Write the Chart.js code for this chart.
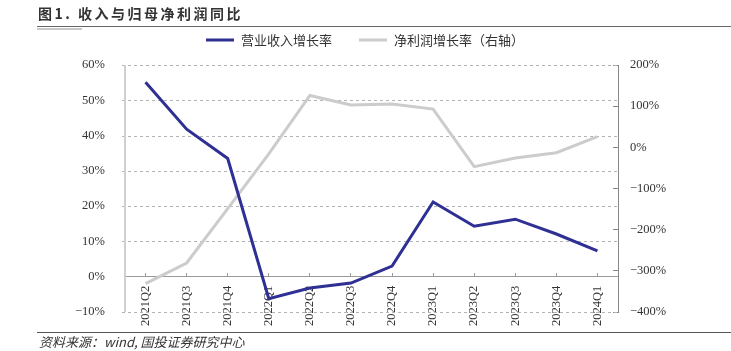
<!DOCTYPE html>
<html>
<head>
<meta charset="utf-8">
<script src="https://cdn.jsdelivr.net/npm/chart.js@4.4.1/dist/chart.umd.min.js"></script>
<style>
    html, body { margin: 0; padding: 0; background: #fff; }
    #wrap { width: 731px; height: 351px; }
</style>
</head>
<body>
<div id="wrap"><canvas id="grafico" width="731" height="351"></canvas></div>
<script>
    const quarters = ['2021Q2', '2021Q3', '2021Q4', '2022Q1', '2022Q2', '2022Q3',
        '2022Q4', '2023Q1', '2023Q2', '2023Q3', '2023Q4', '2024Q1'];
    const revenueGrowth = [55.1, 41.8, 33.5, -6.2, -3.2, -1.8, 3.0, 21.2, 14.3, 16.3, 12.1, 7.3];
    const profitGrowth = [-331, -281, -149, -16, 126, 103, 105, 93, -47, -26, -13, 26];
    const revenueLabel = '营业收入增长率';
    const profitLabel = '净利润增长率（右轴）';
    const titleText = '图1. 收入与归母净利润同比';
    const sourceText = '资料来源：wind, 国投证券研究中心';

    const cjk = '"Noto Sans CJK SC", "Noto Sans", sans-serif';
    const serif = '"Liberation Serif", "DejaVu Serif", serif';

    function pct(v) {
        return (v < 0 ? '\u2212' + Math.abs(v) : v) + '%';
    }

    const decoracao = {
        id: 'decoracao',
        beforeDatasetsDraw(chart) {
            // grade tracejada do eixo esquerdo
            const ctx = chart.ctx;
            const area = chart.chartArea;
            const escala = chart.scales.y;
            ctx.save();
            ctx.strokeStyle = '#b4b4b4';
            ctx.lineWidth = 1;
            ctx.setLineDash([3, 3]);
            escala.ticks.forEach(function (t) {
                if (t.value === 0) {
                    return;
                }
                const y = Math.round(escala.getPixelForValue(t.value)) + 0.5;
                ctx.beginPath();
                ctx.moveTo(area.left - 3, y);
                ctx.lineTo(area.right, y);
                ctx.stroke();
            });
            ctx.restore();
        },
        afterDraw(chart) {
            const ctx = chart.ctx;
            const area = chart.chartArea;
            ctx.save();

            // titulo
            ctx.fillStyle = '#333';
            ctx.font = 'bold 14px ' + cjk;
            ctx.letterSpacing = '2.5px';
            ctx.textBaseline = 'middle';
            ctx.textAlign = 'left';
            ctx.fillText(titleText, 38, 14);
            ctx.letterSpacing = '0px';

            ctx.strokeStyle = '#666';
            ctx.lineWidth = 1;
            ctx.beginPath();
            ctx.moveTo(37, 26.5);
            ctx.lineTo(731, 26.5);
            ctx.stroke();
            ctx.strokeStyle = '#c8c8c8';
            ctx.lineWidth = 2;
            ctx.beginPath();
            ctx.moveTo(37, 29);
            ctx.lineTo(82, 29);
            ctx.stroke();

            // legenda
            ctx.font = '13px ' + cjk;
            const itens = chart.data.datasets;
            const larguras = itens.map(d => 28 + 7 + ctx.measureText(d.label).width);
            const total = larguras.reduce((a, b) => a + b, 0) + 27 * (itens.length - 1);
            let x = 365 - total / 2;
            itens.forEach(function (d, i) {
                ctx.strokeStyle = d.borderColor;
                ctx.lineWidth = 3;
                ctx.beginPath();
                ctx.moveTo(x, 40);
                ctx.lineTo(x + 28, 40);
                ctx.stroke();
                ctx.fillStyle = '#333';
                ctx.fillText(d.label, x + 35, 40);
                x += larguras[i] + 27;
            });

            // eixo esquerdo
            ctx.strokeStyle = '#d0d0d0';
            ctx.lineWidth = 2;
            ctx.beginPath();
            ctx.moveTo(area.left, area.top);
            ctx.lineTo(area.left, area.bottom);
            ctx.stroke();

            // rodape
            ctx.strokeStyle = '#555';
            ctx.lineWidth = 1;
            ctx.beginPath();
            ctx.moveTo(37, 332.5);
            ctx.lineTo(731, 332.5);
            ctx.stroke();
            ctx.fillStyle = '#333';
            ctx.font = 'italic 13px ' + cjk;
            ctx.fillText(sourceText, 39, 342);

            ctx.restore();
        }
    };

    new Chart(document.getElementById('grafico'), {
        type: 'line',
        data: {
            labels: quarters,
            datasets: [{
                label: revenueLabel,
                data: revenueGrowth,
                yAxisID: 'y',
                borderColor: '#2f3094',
                borderWidth: 3,
                pointRadius: 0,
                tension: 0
            }, {
                label: profitLabel,
                data: profitGrowth,
                yAxisID: 'y1',
                borderColor: '#cccccc',
                borderWidth: 3,
                pointRadius: 0,
                tension: 0
            }]
        },
        options: {
            responsive: false,
            animation: false,
            layout: { padding: { top: 65, bottom: 39, left: 0, right: 0 } },
            plugins: {
                legend: { display: false },
                tooltip: { enabled: false }
            },
            scales: {
                x: {
                    type: 'category',
                    offset: true,
                    position: { y: 0 },
                    afterFit: function (s) { s.height = 0; },
                    grid: {
                        drawOnChartArea: false,
                        tickLength: -4,
                        color: '#999'
                    },
                    border: { color: '#999', width: 1 },
                    ticks: {
                        autoSkip: false,
                        minRotation: 90,
                        maxRotation: 90,
                        padding: 13,
                        color: '#333',
                        font: { family: serif, size: 12.5 }
                    }
                },
                y: {
                    position: 'left',
                    min: -10,
                    max: 60,
                    afterFit: function (s) { s.width = 125; },
                    grid: { display: false },
                    border: { display: false },
                    ticks: {
                        stepSize: 10,
                        padding: 12,
                        color: '#333',
                        font: { family: serif, size: 12.5 },
                        callback: pct
                    }
                },
                y1: {
                    position: 'right',
                    min: -400,
                    max: 200,
                    afterFit: function (s) { s.width = 113; },
                    grid: {
                        drawOnChartArea: false,
                        tickLength: -5,
                        color: '#888'
                    },
                    border: { color: '#888', width: 1 },
                    ticks: {
                        stepSize: 100,
                        padding: 17,
                        color: '#333',
                        font: { family: serif, size: 12.5 },
                        callback: pct
                    }
                }
            }
        },
        plugins: [decoracao]
    });
</script>
</body>
</html>
